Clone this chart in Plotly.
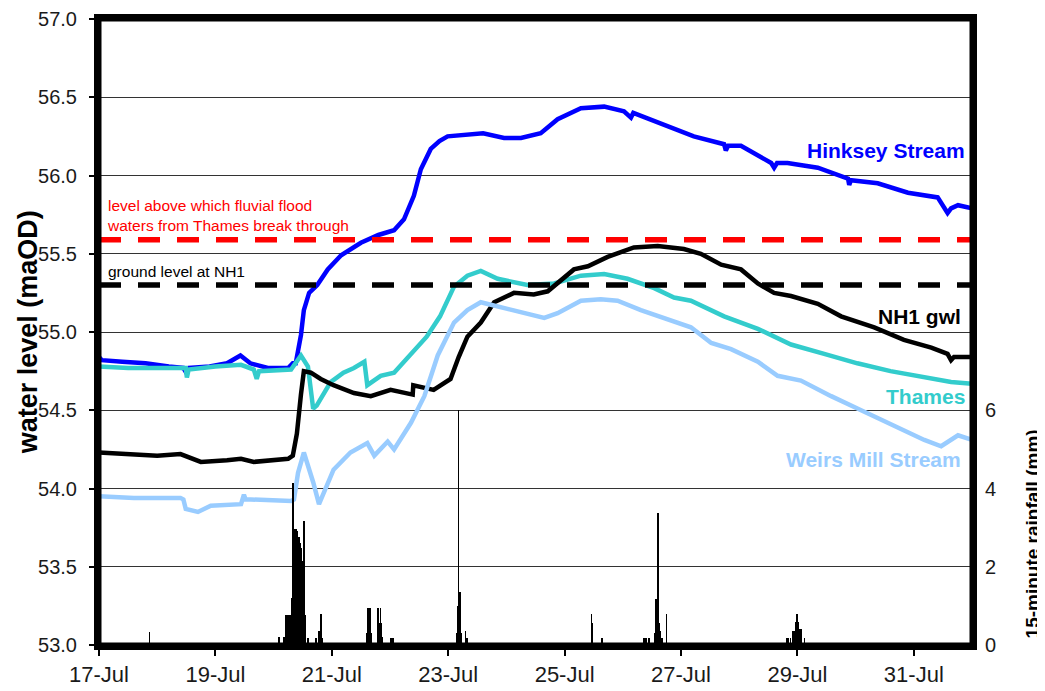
import pandas as pd
import plotly.graph_objects as go

# ---------------- data (x values are "day of July 2007", 17.0 = 17-Jul 00:00) ----------------
hinksey_day = [17.00, 17.05, 17.4, 17.8, 18.2, 18.45, 18.5, 18.55, 18.9, 19.2, 19.43, 19.6, 19.9, 20.25,
               20.33, 20.38, 20.47, 20.52, 20.61, 20.75, 20.93, 21.16, 21.5, 21.8, 22.07, 22.24, 22.41,
               22.53, 22.70, 22.85, 22.99, 23.33, 23.6, 23.96, 24.25, 24.59, 24.88, 25.28, 25.68, 26.02,
               26.14, 26.18, 26.6, 26.88, 27.22, 27.74, 27.77, 27.81, 28.03, 28.55, 28.60, 28.65, 28.83,
               29.35, 29.87, 29.89, 29.92, 30.38, 30.90, 31.41, 31.58, 31.64, 31.76, 32.0]
hinksey_lvl = [54.84, 54.82, 54.81, 54.80, 54.78, 54.77, 54.74, 54.77, 54.78, 54.80, 54.85, 54.80, 54.77, 54.77,
               54.80, 54.80, 54.98, 55.14, 55.25, 55.30, 55.40, 55.49, 55.57, 55.62, 55.65, 55.72, 55.87,
               56.04, 56.17, 56.22, 56.25, 56.26, 56.27, 56.24, 56.24, 56.27, 56.36, 56.43, 56.44, 56.41,
               56.37, 56.40, 56.34, 56.30, 56.25, 56.20, 56.16, 56.19, 56.19, 56.08, 56.05, 56.08, 56.08,
               56.05, 55.98, 55.94, 55.97, 55.95, 55.89, 55.86, 55.76, 55.79, 55.81, 55.79]

nh1_day = [17.00, 17.5, 18.0, 18.4, 18.6, 18.75, 19.2, 19.44, 19.66, 20.0, 20.25, 20.33, 20.40, 20.47,
           20.52, 20.64, 20.81, 21.03, 21.38, 21.67, 22.01, 22.39, 22.40, 22.75, 23.04, 23.18, 23.33,
           23.56, 23.79, 24.13, 24.47, 24.71, 25.16, 25.40, 25.74, 26.19, 26.60, 27.05, 27.34, 27.69,
           28.03, 28.32, 28.60, 28.89, 29.35, 29.75, 30.32, 30.83, 31.30, 31.58, 31.64, 31.69, 32.0]
nh1_lvl = [54.23, 54.22, 54.21, 54.22, 54.19, 54.17, 54.18, 54.19, 54.17, 54.18, 54.19, 54.21, 54.35, 54.60,
           54.75, 54.74, 54.70, 54.66, 54.61, 54.59, 54.63, 54.60, 54.66, 54.63, 54.70, 54.84, 54.97,
           55.06, 55.19, 55.25, 55.24, 55.26, 55.40, 55.42, 55.48, 55.54, 55.55, 55.53, 55.50, 55.43,
           55.40, 55.31, 55.25, 55.23, 55.18, 55.10, 55.03, 54.95, 54.90, 54.86, 54.82, 54.84, 54.84]

thames_day = [17.00, 17.5, 18.0, 18.49, 18.51, 18.54, 19.0, 19.44, 19.66, 19.71, 19.75, 20.30, 20.47,
              20.59, 20.68, 20.74, 20.98, 21.20, 21.38, 21.56, 21.61, 21.84, 22.07, 22.40, 22.63, 22.86,
              23.10, 23.33, 23.56, 23.85, 24.36, 24.82, 25.28, 25.68, 26.08, 26.54, 26.88, 27.17, 27.74,
              28.32, 28.89, 29.46, 30.03, 30.60, 31.18, 31.64, 32.0]
thames_lvl = [54.78, 54.77, 54.77, 54.77, 54.71, 54.76, 54.78, 54.79, 54.76, 54.70, 54.75, 54.76, 54.85,
              54.78, 54.51, 54.53, 54.68, 54.74, 54.77, 54.81, 54.66, 54.72, 54.74, 54.87, 54.97, 55.10,
              55.29, 55.36, 55.39, 55.34, 55.30, 55.31, 55.36, 55.37, 55.34, 55.28, 55.22, 55.20, 55.10,
              55.02, 54.92, 54.86, 54.80, 54.75, 54.71, 54.68, 54.67]

weirs_day = [17.00, 17.6, 18.40, 18.45, 18.49, 18.70, 18.92, 19.44, 19.49, 19.52, 19.61, 20.30, 20.35,
             20.42, 20.52, 20.59, 20.68, 20.78, 20.90, 21.03, 21.32, 21.61, 21.73, 21.96, 22.07, 22.36,
             22.59, 22.82, 23.10, 23.33, 23.56, 23.91, 24.36, 24.65, 24.88, 25.28, 25.62, 25.91, 26.31,
             26.77, 27.17, 27.52, 27.86, 28.32, 28.66, 29.06, 29.58, 30.04, 30.60, 31.18, 31.47, 31.64,
             31.76, 32.0]
weirs_lvl = [53.95, 53.94, 53.94, 53.93, 53.87, 53.85, 53.89, 53.90, 53.96, 53.93, 53.93, 53.92, 53.93,
             54.10, 54.23, 54.15, 54.04, 53.90, 54.00, 54.12, 54.23, 54.29, 54.21, 54.30, 54.25, 54.42,
             54.59, 54.85, 55.06, 55.14, 55.19, 55.16, 55.12, 55.09, 55.12, 55.20, 55.21, 55.20, 55.14,
             55.08, 55.03, 54.93, 54.89, 54.81, 54.72, 54.69, 54.59, 54.51, 54.41, 54.31, 54.27, 54.31,
             54.34, 54.31]

rain_day = [17.87,
            20.09, 20.18, 20.21, 20.22, 20.23, 20.24, 20.25, 20.26, 20.27, 20.28, 20.29, 20.30, 20.31, 20.32,
            20.33, 20.34, 20.35, 20.36, 20.37, 20.38, 20.39, 20.40, 20.41, 20.42, 20.43, 20.44, 20.45, 20.46,
            20.47, 20.48, 20.49, 20.50, 20.51, 20.52, 20.53, 20.54, 20.55, 20.59, 20.73, 20.78, 20.81, 20.84,
            21.60, 21.61, 21.62, 21.63, 21.64, 21.65, 21.66, 21.67, 21.79, 21.80, 21.81, 21.82, 21.83, 21.84,
            21.85, 21.86, 22.02, 22.03, 22.04, 22.05,
            23.15, 23.16, 23.17, 23.18, 23.19, 23.20, 23.21, 23.22, 23.23, 23.30, 23.31, 23.32,
            25.46, 25.47, 25.48, 25.64,
            26.36, 26.37, 26.38, 26.40, 26.45, 26.55, 26.56, 26.57, 26.58, 26.59, 26.60, 26.61, 26.62, 26.63,
            26.64, 26.65, 26.66, 26.68, 26.75,
            28.81, 28.84, 28.88, 28.92, 28.95, 28.97, 28.98, 28.99, 29.00, 29.01, 29.02, 29.03, 29.04, 29.05,
            29.06, 29.07, 29.12]
rain_mm = [0.34,
           0.2, 0.2, 0.77, 0.2, 0.4, 0.4, 0.77, 0.77, 0.77, 0.77, 0.77, 0.77, 0.96, 1.2,
           4.15, 2.96, 2.96, 2.96, 2.96, 2.96, 2.92, 2.92, 2.92, 2.75, 2.75, 2.75, 2.6, 2.49,
           2.49, 2.3, 2.15, 2.15, 2.15, 3.18, 2.1, 0.76, 0.3, 0.18, 0.18, 0.37, 0.78, 0.18,
           0.3, 0.75, 0.95, 0.6, 0.6, 0.6, 0.95, 0.3, 0.95, 0.55, 0.55, 0.55, 0.55, 0.95,
           0.55, 0.2, 0.18, 0.18, 0.18, 0.18,
           0.3, 0.96, 1.0, 6.0, 1.36, 1.36, 0.9, 0.3, 0.2, 0.37, 0.18, 0.18,
           0.78, 0.56, 0.56, 0.18,
           0.18, 0.18, 0.18, 0.18, 0.18, 0.3, 1.17, 1.17, 0.8, 0.56, 3.37, 0.56, 0.56, 0.36,
           0.36, 0.36, 0.18, 0.18, 0.78,
           0.18, 0.18, 0.18, 0.36, 0.36, 0.5, 0.6, 0.78, 0.6, 0.6, 0.6, 0.4, 0.4, 0.4,
           0.4, 0.2, 0.18]

flood_level = 55.59     # level above which fluvial flood waters break through
ground_level = 55.30    # ground level at NH1

x_tick_days = [17, 19, 21, 23, 25, 27, 29, 31]
x_range_days = [17, 32]
rain_ticks = [0, 2, 4, 6]

FONT = "Arial, Liberation Sans, sans-serif"


def to_dt(days):
    return list(pd.Timestamp("2007-07-01") + pd.to_timedelta([d - 1 for d in days], unit="D"))


fig = go.Figure()

series = [
    ("Hinksey Stream", hinksey_day, hinksey_lvl, "#0000FF"),
    ("Thames", thames_day, thames_lvl, "#33CCCC"),
    ("NH1 gwl", nh1_day, nh1_lvl, "#000000"),
    ("Weirs Mill Stream", weirs_day, weirs_lvl, "#99CCFF"),
]
for name, d, lv, col in series:
    fig.add_trace(go.Scatter(x=to_dt(d), y=lv, mode="lines", name=name,
                             line=dict(color=col, width=4.5), showlegend=False))

fig.add_trace(go.Bar(x=to_dt(rain_day), y=rain_mm, yaxis="y2", width=864000,
                     marker=dict(color="black", line=dict(width=0)), showlegend=False,
                     name="15-minute rainfall"))

# reference levels
fig.add_shape(type="line", xref="paper", x0=0, x1=1, yref="y", y0=flood_level, y1=flood_level,
              line=dict(color="#FF0000", width=5.5, dash="22px,17px"))
fig.add_shape(type="line", xref="paper", x0=0, x1=1, yref="y", y0=ground_level, y1=ground_level,
              line=dict(color="#000000", width=5.5, dash="22px,17px"))
# plot frame
fig.add_shape(type="rect", xref="paper", yref="paper", x0=0, x1=1, y0=0, y1=1,
              line=dict(color="black", width=5), fillcolor="rgba(0,0,0,0)")

ann = []
ann.append(dict(text="level above which fluvial flood<br>waters from Thames break through",
                xref="paper", x=0.007, xanchor="left", yref="y", y=55.742, yanchor="middle",
                align="left", showarrow=False, font=dict(family=FONT, size=15.5, color="#FF0000")))
ann.append(dict(text="ground level at NH1", xref="paper", x=0.008, xanchor="left",
                yref="y", y=55.385, yanchor="middle", showarrow=False,
                font=dict(family=FONT, size=15.5, color="#000000")))
labels = [("Hinksey Stream", 56.16, "#0000FF", 0.994),
          ("NH1 gwl", 55.10, "#000000", 0.990),
          ("Thames", 54.59, "#33CCCC", 0.994),
          ("Weirs Mill Stream", 54.185, "#99CCFF", 0.990)]
for t, yv, col, xp in labels:
    ann.append(dict(text="<b>%s</b>" % t, xref="paper", x=xp, xanchor="right", yref="y", y=yv,
                    yanchor="middle", showarrow=False, font=dict(family=FONT, size=21, color=col)))
# axis titles
ann.append(dict(text="<b>water level (maOD)</b>", xref="paper", x=-0.081, yref="paper", y=0.5,
                xanchor="center", yanchor="middle", textangle=-90, showarrow=False,
                font=dict(family=FONT, size=27, color="#000000")))
ann.append(dict(text="<b>15-minute rainfall (mm)</b>", xref="paper", x=1.069, yref="paper", y=0.177,
                xanchor="center", yanchor="middle", textangle=-90, showarrow=False,
                font=dict(family=FONT, size=19, color="#000000")))

fig.update_layout(
    width=1045, height=691,
    margin=dict(l=91, r=81, t=11, b=54, autoexpand=False),
    paper_bgcolor="white", plot_bgcolor="white",
    font=dict(family=FONT, color="#1a1a1a"),
    showlegend=False,
    bargap=0,
    annotations=ann,
    xaxis=dict(type="date", range=to_dt(x_range_days), tickvals=to_dt(x_tick_days),
               tickformat="%d-%b", ticks="outside", ticklen=6, tickwidth=2, tickcolor="black",
               showline=True, linewidth=5, linecolor="black", mirror=True, showgrid=False,
               zeroline=False, automargin=False, ticklabeloverflow="allow",
               tickfont=dict(size=22, color="#1a1a1a")),
    yaxis=dict(range=[53, 57], tick0=53, dtick=0.5, tickformat=".1f", ticks="outside", ticklen=5,
               tickwidth=2, tickcolor="black", showline=True, linewidth=5, linecolor="black",
               mirror=True, showgrid=True, gridcolor="#333333", gridwidth=1, zeroline=False,
               automargin=False, ticklabelstandoff=8, ticklabeloverflow="allow",
               tickfont=dict(size=20, color="#1a1a1a")),
    yaxis2=dict(overlaying="y", side="right", range=[0, 16], tickvals=rain_ticks, showgrid=False,
                showline=False, zeroline=False, ticks="", ticklabelstandoff=12, automargin=False,
                ticklabeloverflow="allow", tickfont=dict(size=20, color="#1a1a1a")),
)

fig.write_html("out.html")
